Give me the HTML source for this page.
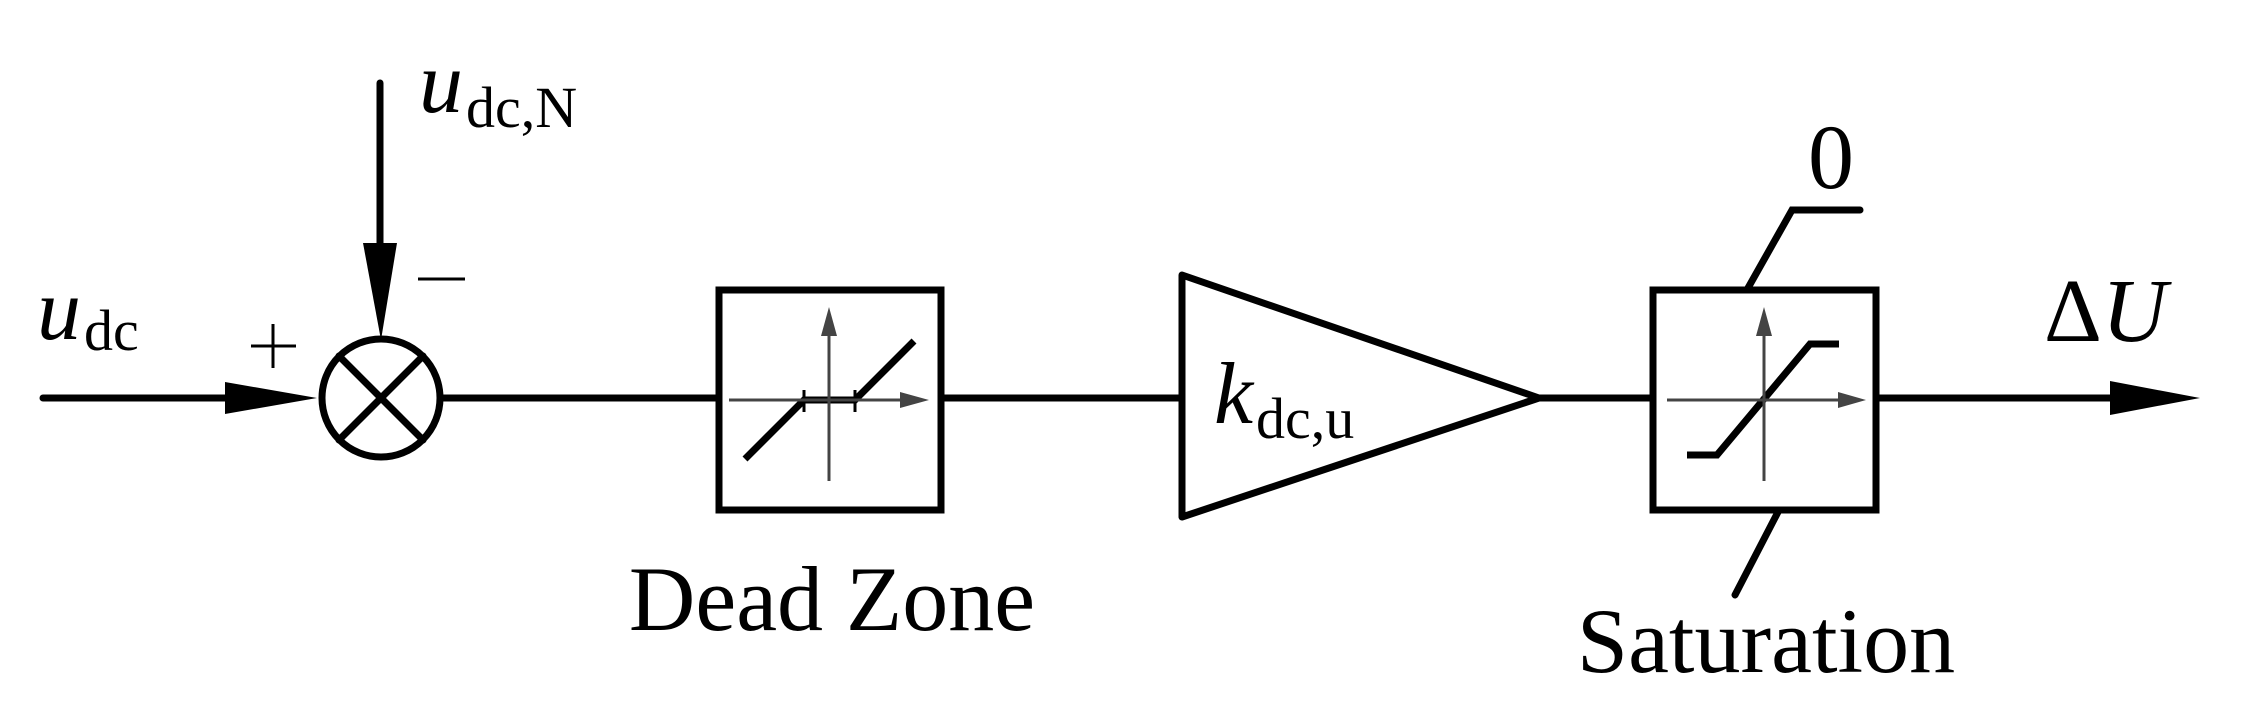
<!DOCTYPE html>
<html><head><meta charset="utf-8"><style>html,body{margin:0;padding:0;background:#fff}svg{display:block}</style></head>
<body>
<svg width="2242" height="718" viewBox="0 0 2242 718" xmlns="http://www.w3.org/2000/svg" font-family="Liberation Serif, serif">
<g stroke="#000" stroke-width="7" fill="none" stroke-linecap="round">
<line x1="43" y1="398" x2="230" y2="398"/>
<line x1="380" y1="83" x2="380" y2="250"/>
<circle cx="381" cy="398" r="59"/>
<line x1="339" y1="356" x2="423" y2="440"/>
<line x1="423" y1="356" x2="339" y2="440"/>
<line x1="440" y1="398" x2="716" y2="398"/>
<rect x="719" y="290" width="222" height="220" stroke-linecap="butt"/>
<line x1="941" y1="398" x2="1182" y2="398"/>
<polygon points="1182,275 1539,398 1182,517" stroke-linejoin="round"/>
<line x1="1539" y1="398" x2="1650" y2="398"/>
<rect x="1653" y="290" width="223" height="220" stroke-linecap="butt"/>
<line x1="1876" y1="398" x2="2120" y2="398"/>
<polyline points="745,459 804,400 855,400 914,341" stroke-linecap="butt"/>
<polyline points="1687,455 1717,455 1810,344 1839,344" stroke-linecap="butt"/>
<polyline points="1748,288 1792,210 1860,210"/>
<line x1="1778" y1="512" x2="1735" y2="595"/>
</g>
<g stroke="#000" stroke-width="3"><line x1="804" y1="390" x2="804" y2="412"/><line x1="855" y1="390" x2="855" y2="412"/>
<line x1="251" y1="346" x2="296" y2="346"/><line x1="273" y1="324" x2="273" y2="368"/>
<line x1="418" y1="279" x2="465" y2="279"/></g>
<polygon points="225,382 317,398 225,414" fill="#000"/>
<polygon points="363,243 397,243 381,340" fill="#000"/>
<polygon points="2110,381 2200,398 2110,415" fill="#000"/>
<g stroke="#444" stroke-width="3">
<line x1="729" y1="400" x2="905" y2="400"/><line x1="829" y1="481" x2="829" y2="330"/>
<line x1="1667" y1="400" x2="1843" y2="400"/><line x1="1764" y1="481" x2="1764" y2="330"/>
</g>
<g fill="#444">
<polygon points="900,392 929,400 900,408"/><polygon points="821,336 829,307 837,336"/>
<polygon points="1838,392 1866,400 1838,408"/><polygon points="1756,336 1764,307 1772,336"/>
</g>
<g fill="#000">
<text x="419" y="112" font-size="88" font-style="italic">u</text>
<text x="466" y="127" font-size="58">dc,N</text>
<text x="37" y="339" font-size="88" font-style="italic">u</text>
<text x="84" y="350" font-size="58">dc</text>
<text x="1214" y="423" font-size="88" font-style="italic">k</text>
<text x="1256" y="438" font-size="58">dc,u</text>
<text x="1831" y="188" font-size="92" text-anchor="middle">0</text>
<text x="2044" y="341" font-size="90">Δ<tspan font-style="italic">U</tspan></text>
<text x="832" y="630" font-size="92" text-anchor="middle">Dead Zone</text>
<text x="1766" y="672" font-size="92" text-anchor="middle">Saturation</text>
</g>
</svg>
</body></html>
